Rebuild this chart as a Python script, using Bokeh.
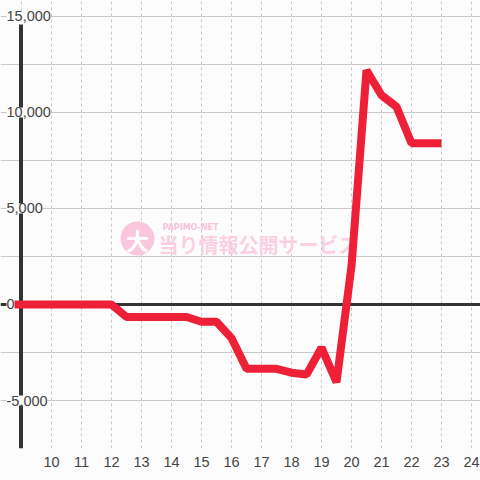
from bokeh.plotting import figure
from bokeh.models import (ColumnDataSource, FixedTicker, LabelSet, Range1d)
from bokeh.core.properties import value
from bokeh.embed import file_html
from bokeh.resources import INLINE

# ---- data ----
hours = [8.75, 9.0, 9.5, 10.0, 10.5, 11.0, 11.5, 12.0, 12.5, 13.0, 13.5, 14.0,
         14.5, 15.0, 15.5, 16.0, 16.5, 17.0, 17.5, 18.0, 18.5, 19.0, 19.5,
         20.0, 20.5, 21.0, 21.5, 22.0, 22.5, 23.0]
balance = [0, 0, 0, 0, 0, 0, 0, 0, -650, -650, -650, -650,
           -650, -900, -900, -1750, -3350, -3350, -3350, -3550, -3650, -2250, -4050,
           2000, 12200, 10900, 10300, 8400, 8400, 8400]
x_ticks = [10, 11, 12, 13, 14, 15, 16, 17, 18, 19, 20, 21, 22, 23, 24]
x_grid = [9, 10, 11, 12, 13, 14, 15, 16, 17, 18, 19, 20, 21, 22, 23, 24]
y_ticks = [-5000, 0, 5000, 10000, 15000]
y_tick_labels = ["-5,000", "0", "5,000", "10,000", "15,000"]
y_grid = [-7500, -5000, -2500, 0, 2500, 5000, 7500, 10000, 12500, 15000]

# ---- layout / style ----
W, H = 480, 480
FRAME_H = 448
X0, X1 = 8.3, 24.3
Y0, Y1 = -7500, 15833.33
AXIS_X = 8.9833
AXIS_TOP = 14583
BG = "#fcfcfc"
FONT = "Liberation Sans"
TXT = "#444444"
RED = "#ee2037"


def px_x(px):
    return X0 + px * (X1 - X0) / W


def px_y(py):
    return Y1 - py * (Y1 - Y0) / FRAME_H


p = figure(width=W, height=H, output_backend="svg", toolbar_location=None,
           x_range=Range1d(X0, X1), y_range=Range1d(Y0, Y1),
           y_axis_location=None, min_border_left=0, min_border_right=0,
           min_border_top=0, min_border_bottom=H - FRAME_H)
p.background_fill_color = BG
p.border_fill_color = BG
p.outline_line_color = None

# grids
p.xgrid.ticker = FixedTicker(ticks=x_grid)
p.xgrid.grid_line_color = "#c8c8c8"
p.xgrid.grid_line_dash = "3 3"
p.xgrid.grid_line_width = 1
p.ygrid.ticker = FixedTicker(ticks=y_grid)
p.ygrid.grid_line_color = "#c8c8c8"
p.ygrid.grid_line_width = 1

# x axis
p.xaxis.ticker = FixedTicker(ticks=x_ticks)
p.xaxis.axis_line_color = None
p.xaxis.major_tick_line_color = None
p.xaxis.minor_tick_line_color = None
p.xaxis.major_label_text_font = FONT
p.xaxis.major_label_text_font_size = "14.5px"
p.xaxis.major_label_text_color = TXT
p.xaxis.major_label_standoff = 2

# watermark
wm_src = ColumnDataSource(dict(x=[px_x(137)], y=[px_y(238)]))
p.scatter("x", "y", source=wm_src, marker="circle", size=34,
          fill_color="#f9c6dc", line_color=None)
p.text(x=[px_x(137)], y=[px_y(239)], text=["大"], text_font=value("Noto Sans CJK JP"),
       text_font_style="bold", text_font_size="23px", text_color="#ffffff",
       text_align="center", text_baseline="middle")
p.text(x=[px_x(162)], y=[px_y(227)], text=["PAPIMO-NET"], text_font=value("DejaVu Sans"),
       text_font_style="bold", text_font_size="8px", text_color="#f8c4da",
       text_align="left", text_baseline="middle")
p.text(x=[px_x(158)], y=[px_y(244)], text=["当り情報公開サービス"],
       text_font=value("Noto Sans CJK JP"), text_font_style="bold",
       text_font_size="20px", text_color="#fad0e2",
       text_align="left", text_baseline="middle")

# zero line and left axis line
p.hspan(y=[0], line_color="#333333", line_width=3)
p.segment(x0=[AXIS_X], y0=[Y0], x1=[AXIS_X], y1=[AXIS_TOP],
          line_color="#333333", line_width=4)

# series
src = ColumnDataSource(dict(x=hours, y=balance))
p.line("x", "y", source=src, line_color=RED, line_width=8,
       line_join="bevel", line_cap="butt")

# y tick labels
lab_src = ColumnDataSource(dict(y=y_ticks, t=y_tick_labels, x=[6] * len(y_ticks)))
labels = LabelSet(x="x", y="y", text="t", source=lab_src, x_units="screen",
                  text_font=value(FONT), text_font_size=value("14.5px"),
                  text_color=TXT, text_align="left", text_baseline="middle",
                  background_fill_color=BG)
p.add_layout(labels)

open("out.html", "w").write(file_html(p, INLINE))
